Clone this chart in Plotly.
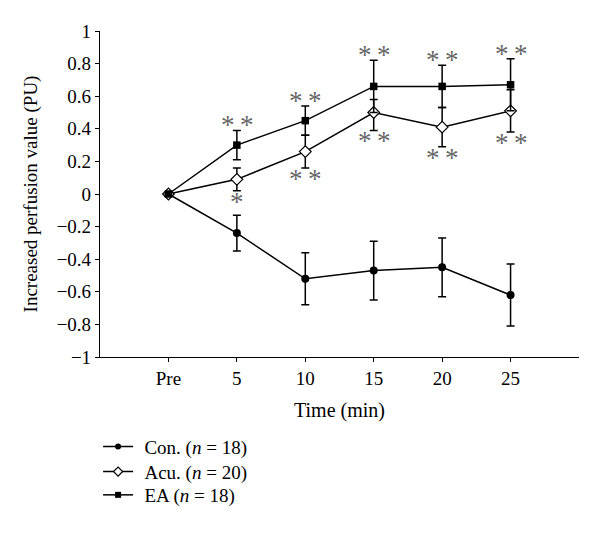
import plotly.graph_objects as go

# ---- data ----
x_labels = ["Pre", "5", "10", "15", "20", "25"]
x_pos = [0, 1, 2, 3, 4, 5]

con_mean = [0, -0.24, -0.52, -0.47, -0.45, -0.62]
con_err = [0, 0.11, 0.16, 0.18, 0.18, 0.19]

acu_mean = [0, 0.09, 0.26, 0.50, 0.41, 0.51]
acu_err_up = [0, 0.07, 0.10, 0.08, 0.12, 0.13]
acu_err_down = [0, 0.07, 0.10, 0.11, 0.12, 0.13]

ea_mean = [0, 0.30, 0.45, 0.66, 0.66, 0.67]
ea_err = [0, 0.09, 0.09, 0.16, 0.13, 0.16]

ea_sig = ["", "*\u2009*", "*\u2009*", "*\u2009*", "*\u2009*", "*\u2009*"]
acu_sig = ["", "*", "*\u2009*", "*\u2009*", "*\u2009*", "*\u2009*"]

y_ticks = [-1, -0.8, -0.6, -0.4, -0.2, 0, 0.2, 0.4, 0.6, 0.8, 1]

legend_names = ["Con. (<i>n</i> = 18)", "Acu. (<i>n</i> = 20)", "EA (<i>n</i> = 18)"]

FONT = "Liberation Serif"
SP = "\u2004"

fig = go.Figure()

line = dict(color="black", width=1.5)

fig.add_trace(go.Scatter(
    x=x_pos, y=con_mean, mode="lines+markers", showlegend=False,
    line=line, marker=dict(symbol="circle", size=8, color="black"),
    error_y=dict(type="data", array=con_err, color="black", thickness=1.5, width=4),
))
fig.add_trace(go.Scatter(
    x=x_pos, y=acu_mean, mode="lines+markers", showlegend=False,
    line=line,
    marker=dict(symbol="diamond", size=9, color="white", line=dict(color="black", width=1.2)),
    error_y=dict(type="data", symmetric=False, array=acu_err_up, arrayminus=acu_err_down,
                 color="black", thickness=1.5, width=4),
))
fig.add_trace(go.Scatter(
    x=x_pos, y=ea_mean, mode="lines+markers", showlegend=False,
    line=line, marker=dict(symbol="square", size=7.5, color="black"),
    error_y=dict(type="data", array=ea_err, color="black", thickness=1.5, width=4),
))

# legend entries (smaller markers, as in the reference key), one legend box each
leg_markers = [
    dict(symbol="circle", size=6, color="black"),
    dict(symbol="diamond", size=7, color="white", line=dict(color="black", width=1.2)),
    dict(symbol="square", size=6, color="black"),
]
leg_ids = ["legend", "legend2", "legend3"]
for name, mk, lid in zip(legend_names, leg_markers, leg_ids):
    fig.add_trace(go.Scatter(x=[None], y=[None], mode="lines+markers", name=SP + name,
                             line=line, marker=mk, showlegend=True, legend=lid))

annotations = []
for xi, m, e, s in zip(x_pos, ea_mean, ea_err, ea_sig):
    if s:
        annotations.append(dict(x=xi, y=m + e, text=s, showarrow=False, xref="x", yref="y",
                                yanchor="middle", yshift=5,
                                font=dict(family=FONT, size=27, color="#666")))
for xi, m, e, s in zip(x_pos, acu_mean, acu_err_down, acu_sig):
    if s:
        annotations.append(dict(x=xi, y=m - e, text=s, showarrow=False, xref="x", yref="y",
                                yanchor="middle", yshift=-11,
                                font=dict(family=FONT, size=27, color="#666")))

leg_common = dict(xanchor="left", yanchor="middle", bgcolor="rgba(0,0,0,0)",
                  font=dict(family=FONT, size=19, color="black"), itemwidth=30)
leg_x = -0.004

fig.update_layout(
    width=592, height=530,
    margin=dict(l=92, r=21, t=23, b=181),
    plot_bgcolor="white", paper_bgcolor="white",
    font=dict(family=FONT, size=18, color="black"),
    annotations=annotations,
    showlegend=True,
    legend=dict(x=leg_x, y=-0.2751, **leg_common),
    legend2=dict(x=leg_x, y=-0.3518, **leg_common),
    legend3=dict(x=leg_x, y=-0.4233, **leg_common),
)
fig.update_xaxes(
    range=[-1, 6], tickvals=x_pos, ticktext=x_labels,
    showline=True, linecolor="black", linewidth=1.2,
    ticks="outside", ticklen=4, tickcolor="black", tickwidth=1.2,
    showgrid=False, zeroline=False, automargin=False,
    tickfont=dict(family=FONT, size=19, color="black"),
    title=dict(text="Time (min)", standoff=15, font=dict(family=FONT, size=20, color="black")),
)
fig.update_yaxes(
    range=[-1, 1], tickvals=y_ticks,
    tickformat="~g",
    showline=True, linecolor="black", linewidth=1.2,
    ticks="outside", ticklen=4, tickcolor="black", tickwidth=1.2,
    showgrid=False, zeroline=False, automargin=False,
    tickfont=dict(family=FONT, size=19, color="black"),
    title=dict(text="Increased perfusion value (PU)", standoff=13,
               font=dict(family=FONT, size=19, color="black")),
)

fig.write_html("out.html")
